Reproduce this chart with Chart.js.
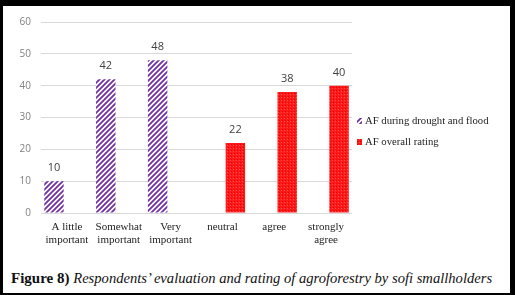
<!DOCTYPE html>
<html>
<head>
<meta charset="utf-8">
<script src="https://cdn.jsdelivr.net/npm/chart.js@4.4.1/dist/chart.umd.min.js"></script>
<style>
  html, body { margin: 0; padding: 0; background: #fff; }
  #frame {
    position: relative; width: 515px; height: 295px; box-sizing: border-box;
    border-style: solid; border-color: #000; border-width: 6px 5px 2px 3px;
    background: #fff; overflow: hidden;
  }
  #wrap { position: absolute; left: 0; top: 0; width: 507px; height: 252px; }
  #caption {
    position: absolute; left: 8px; top: 263px; white-space: nowrap;
    font-family: "Liberation Serif", serif; font-size: 15px; line-height: 18px; color: #111;
  }
  #caption b { font-weight: bold; }
  #caption i { font-style: italic; font-size: 14.6px; }
</style>
</head>
<body>
<div id="frame">
  <div id="wrap"><canvas id="afChart"></canvas></div>
  <div id="caption"><b>Figure 8)</b> <i>Respondents’ evaluation and rating of agroforestry by sofi smallholders</i></div>
</div>
<script>
// chart data
const categories = [
    ["A little", "important"], ["Somewhat", "important"], ["Very", "important"],
    "neutral", "agree", ["strongly", "agree"]
];
const droughtFlood = [10, 42, 48, null, null, null];
const overallRating = [null, null, null, 22, 38, 40];
const seriesNames = ["AF during drought and flood", "AF overall rating"];
const yTicks = [0, 10, 20, 30, 40, 50, 60];

// fill patterns (purple hatching and red stipple)
function stripePattern() {
    const c = document.createElement("canvas");
    c.width = 5; c.height = 5;
    const g = c.getContext("2d");
    g.fillStyle = "#fff";
    g.fillRect(0, 0, 5, 5);
    g.strokeStyle = "#7030a0";
    g.lineWidth = 1.8;
    g.beginPath();
    g.moveTo(-1, 6); g.lineTo(6, -1);
    g.moveTo(-1, 1); g.lineTo(1, -1);
    g.moveTo(4, 6); g.lineTo(6, 4);
    g.stroke();
    return g.createPattern(c, "repeat");
}
function dotPattern() {
    const c = document.createElement("canvas");
    c.width = 3; c.height = 3;
    const g = c.getContext("2d");
    g.fillStyle = "#ff1a1a";
    g.fillRect(0, 0, 3, 3);
    g.fillStyle = "#e80000";
    g.fillRect(0, 0, 1, 1);
    g.fillStyle = "#ff4d4d";
    g.fillRect(2, 1, 1, 1);
    return g.createPattern(c, "repeat");
}
const purpleHatch = stripePattern();
const redDots = dotPattern();

// value labels above bars
const valueLabels = {
    id: "valueLabels",
    afterDatasetsDraw(chart) {
        const ctx = chart.ctx;
        ctx.save();
        ctx.font = "11px 'Open Sans', sans-serif";
        ctx.fillStyle = "#404040";
        ctx.textAlign = "center";
        ctx.textBaseline = "middle";
        chart.data.datasets.forEach((ds, i) => {
            chart.getDatasetMeta(i).data.forEach((bar, j) => {
                if (ds.data[j] == null) return;
                ctx.fillText(ds.data[j], bar.x, bar.y - 13);
            });
        });
        ctx.restore();
    }
};

// legend drawn to the right of the plot
const sideLegend = {
    id: "sideLegend",
    afterDraw(chart) {
        const ctx = chart.ctx;
        const x = chart.chartArea.right + 5;
        const rows = [115, 136];
        ctx.save();
        ctx.font = "10.7px 'Liberation Serif', serif";
        ctx.textBaseline = "middle";
        chart.data.datasets.forEach((ds, i) => {
            ctx.fillStyle = ds.backgroundColor;
            ctx.fillRect(x, rows[i] - 3, 5, 6);
            ctx.fillStyle = "#222";
            ctx.fillText(seriesNames[i], x + 8, rows[i]);
        });
        ctx.restore();
    }
};

const ctx = document.getElementById("afChart").getContext("2d");
new Chart(ctx, {
    type: "bar",
    data: {
        labels: categories,
        datasets: [
            { label: seriesNames[0], data: droughtFlood, backgroundColor: purpleHatch,
              categoryPercentage: 1.0, barPercentage: 0.75 },
            { label: seriesNames[1], data: overallRating, backgroundColor: redDots,
              categoryPercentage: 1.0, barPercentage: 0.75 }
        ]
    },
    options: {
        responsive: true,
        maintainAspectRatio: false,
        animation: false,
        layout: { padding: { left: 0, right: 158, top: 15, bottom: 0 } },
        plugins: {
            legend: { display: false },
            tooltip: { enabled: false }
        },
        scales: {
            x: {
                grid: { display: false, drawTicks: false },
                border: { display: false },
                ticks: {
                    padding: 8,
                    color: "#222",
                    font: { family: "'Liberation Serif', serif", size: 11, lineHeight: 1.18 },
                    maxRotation: 0, autoSkip: false
                },
                afterFit: s => { s.height = 45; }
            },
            y: {
                min: 0, max: 60,
                afterBuildTicks: s => { s.ticks = yTicks.map(v => ({ value: v })); },
                grid: { color: "#d9d9d9", drawTicks: false },
                border: { display: false },
                ticks: {
                    padding: 10,
                    color: "#808080",
                    font: { family: "'Open Sans', sans-serif", size: 10 }
                },
                afterFit: s => { s.width = 38; }
            }
        }
    },
    plugins: [valueLabels, sideLegend]
});
</script>
</body>
</html>
